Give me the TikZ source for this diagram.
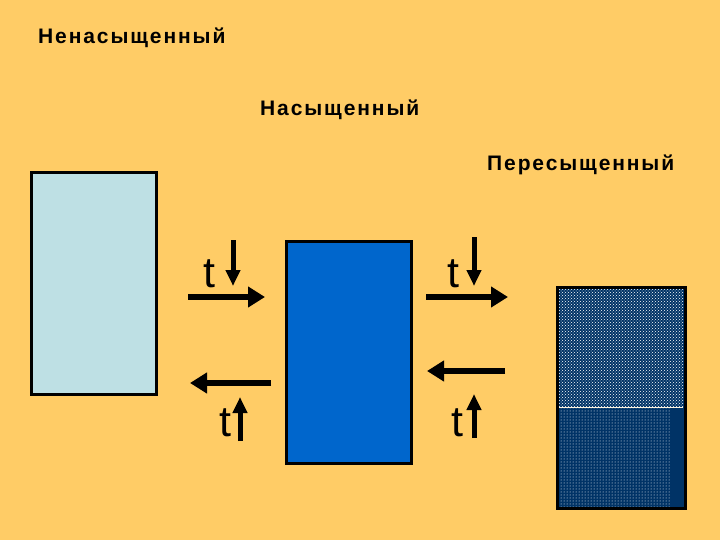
\documentclass[tikz,border=0pt]{standalone}
\usepackage{fontspec}
\setmainfont{Liberation Sans}
\newfontfamily\lblfont[LetterSpace=9]{Liberation Sans Bold}
\usetikzlibrary{arrows.meta,patterns}
\definecolor{bg}{RGB}{255,204,102}
\definecolor{lightbox}{RGB}{190,224,228}
\definecolor{midbox}{RGB}{0,102,204}
\definecolor{darkbox}{RGB}{0,51,102}
\tikzset{
  lbl/.style={anchor=base west,inner sep=0pt,font=\lblfont\fontsize{21}{24}\selectfont},
  tlbl/.style={anchor=base west,inner sep=0pt,font=\fontsize{43}{48}\selectfont},
  vessel/.style={draw=black,line width=3pt},
  arr/.style={line width=5.5pt,-{Triangle[length=17pt,width=20pt]}},
  tarr/.style={line width=5pt,-{Triangle[length=16pt,width=14pt]}},
}
\begin{document}
\begin{tikzpicture}[x=1pt,y=-1pt]
\useasboundingbox[fill=bg] (0,0) rectangle (720,540);
\node[lbl] (l1) at (38,43.5) {Ненасыщенный};
\node[lbl] (l2) at (260,116) {Насыщенный};
\node[lbl] (l3) at (487,171) {Пересыщенный};
% vessels
\draw[vessel,fill=lightbox] (31,173) rectangle (156,394);
\node[inner sep=0pt] (v1) at (93.5,283.5) {};
\draw[vessel,fill=midbox] (286,241) rectangle (411,463);
\node[inner sep=0pt] (v2) at (348.5,352) {};
\fill[darkbox] (557,287) rectangle (685,508);
\fill[pattern=crosshatch dots,pattern color=white] (559,289) rectangle (683,407);
\fill[pattern=dots,pattern color=white] (559,408) rectangle (670,506);
\draw[white!80!bg,line width=1pt] (559,407.5) -- (683,407.5);
\draw[vessel] (557,287) rectangle (685,508);
% arrows
\coordinate (a1s) at (188,297); \coordinate (a1e) at (265,297);
\draw[arr] (a1s) -- (a1e);
\node[tlbl] (t1) at (203,287) {t};
\coordinate (d1s) at (233,240); \coordinate (d1e) at (233,286);
\draw[tarr] (d1s) -- (d1e);
\coordinate (a2s) at (426,297); \coordinate (a2e) at (508,297);
\draw[arr] (a2s) -- (a2e);
\node[tlbl] (t2) at (447,287) {t};
\coordinate (d2s) at (474,237); \coordinate (d2e) at (474,286);
\draw[tarr] (d2s) -- (d2e);
\coordinate (b1s) at (271,383); \coordinate (b1e) at (190,383);
\draw[arr] (b1s) -- (b1e);
\node[tlbl] (t3) at (219,436) {t};
\coordinate (u1s) at (240,441); \coordinate (u1e) at (240,397);
\draw[tarr] (u1s) -- (u1e);
\coordinate (b2s) at (505,371); \coordinate (b2e) at (427,371);
\draw[arr] (b2s) -- (b2e);
\node[tlbl] (t4) at (451,436) {t};
\coordinate (u2s) at (474,438); \coordinate (u2e) at (474,394);
\draw[tarr] (u2s) -- (u2e);
\end{tikzpicture}
\end{document}
